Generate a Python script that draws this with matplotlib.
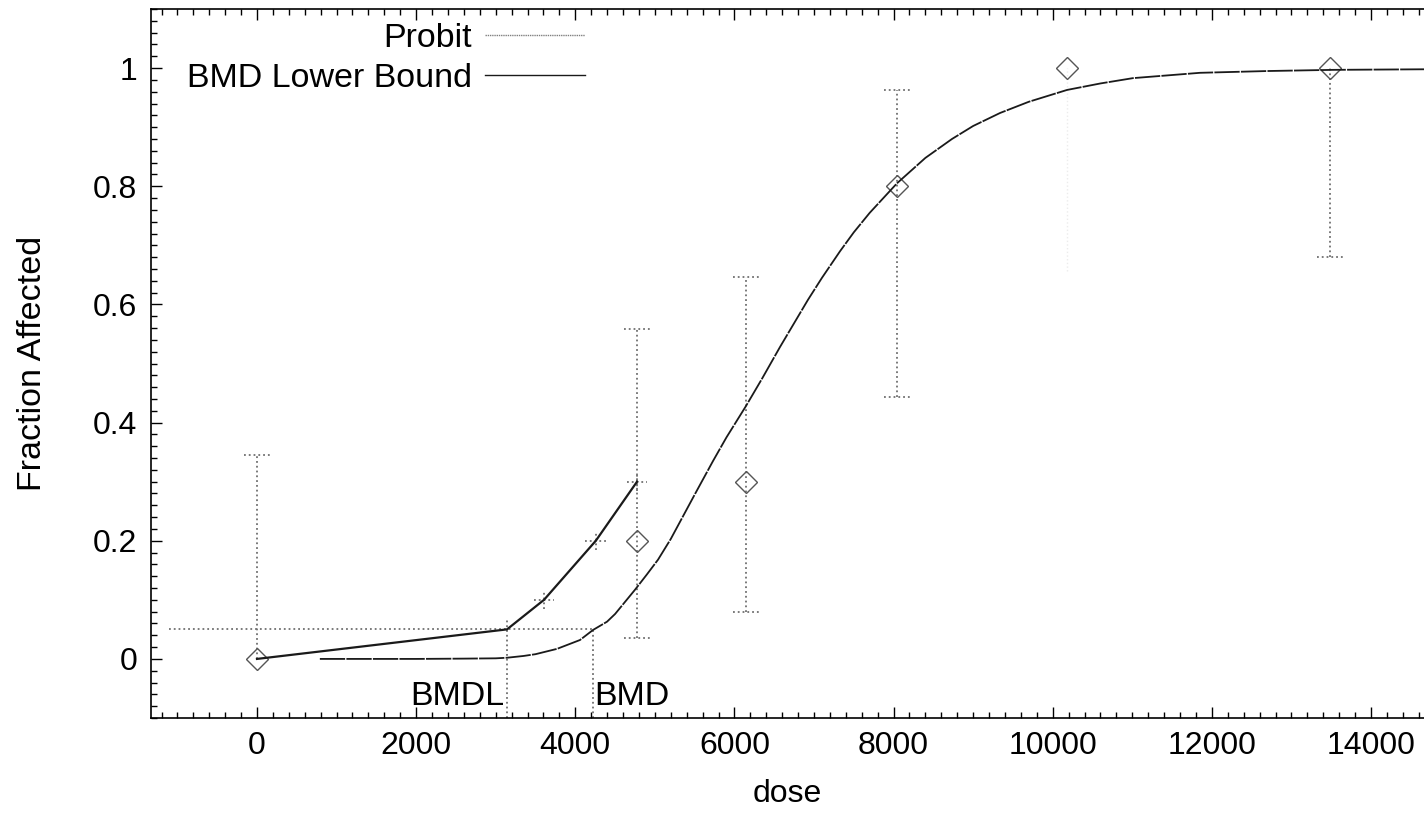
import matplotlib
matplotlib.use("Agg")
import matplotlib.pyplot as plt
from matplotlib.lines import Line2D
from matplotlib.ticker import MultipleLocator

plt.rcParams['font.family'] = ['Liberation Sans', 'DejaVu Sans']

# ---- data ----
obs_dose = [0, 4776, 6145, 8043, 10180, 13490]
obs_frac = [0.0, 0.2, 0.3, 0.8, 1.0, 1.0]
err_low = [0.0, 0.036, 0.08, 0.443, 0.657, 0.68]
err_high = [0.345, 0.558, 0.646, 0.963, 1.0, 1.0]

probit_dose = [790, 2000, 2600, 3000, 3142, 3350, 3500, 3770, 4059, 4223, 4399, 4500,
               4750, 4900, 5040, 5200, 5316, 5500, 5731, 5900, 6145, 6350, 6573, 6925,
               7100, 7327, 7500, 7700, 8043, 8400, 8734, 9000, 9338, 9700, 10180,
               10600, 11009, 11851, 12693, 13523, 14700]
probit_frac = [0.0, 0.0, 0.0005, 0.001, 0.002, 0.005, 0.008, 0.017, 0.032, 0.049, 0.063, 0.076,
               0.117, 0.143, 0.168, 0.203, 0.232, 0.278, 0.335, 0.375, 0.428, 0.475, 0.528, 0.608,
               0.645, 0.690, 0.722, 0.755, 0.805, 0.848, 0.880, 0.902, 0.924, 0.943, 0.963,
               0.974, 0.983, 0.992, 0.995, 0.997, 0.998]

bmdl_dose = [0, 3142, 3607, 4258, 4776]
bmdl_frac = [0.0, 0.05, 0.1, 0.2, 0.3]

bmr = 0.05
bmdl = 3142
bmd = 4223

# ---- figure ----
fig = plt.figure(figsize=(14.24, 8.32), dpi=100)
ax = fig.add_axes([151 / 1424, 114 / 832, 1 - 151 / 1424, (718 - 9) / 832])
ax.set_xlim(-1332, 14666)
ax.set_ylim(-0.1, 1.1)

FS_TICK = 23
FS_TXT = 24.5
ecol = '#707070'

# error bars (dotted) with dotted caps
ax.vlines(obs_dose[:4], err_low[:4], err_high[:4], colors=ecol, linestyles=':', lw=1.3)
ax.vlines(obs_dose[4:5], err_low[4:5], err_high[4:5], colors='#ececec', linestyles=':', lw=1.0)
ax.vlines(obs_dose[5:], err_low[5:], err_high[5:], colors=ecol, linestyles=':', lw=1.3)
cap = 165
for d, lo, hi in zip(obs_dose[:4] + obs_dose[5:], err_low[:4] + err_low[5:], err_high[:4] + err_high[5:]):
    if lo > 0:
        ax.hlines(lo, d - cap, d + cap, colors=ecol, linestyles=':', lw=1.3)
    if hi < 1.0:
        ax.hlines(hi, d - cap, d + cap, colors=ecol, linestyles=':', lw=1.3)

# observed data
ax.plot(obs_dose, obs_frac, linestyle='none', marker='D', ms=11, mfc='none',
        mec='#555555', mew=1.0, zorder=4)

# BMR / BMDL / BMD reference lines
ax.hlines(bmr, -1100, bmd, colors=ecol, linestyles=':', lw=1.3)
ax.vlines(bmdl, -0.1, 0.066, colors=ecol, linestyles=':', lw=1.3)
ax.vlines(bmd, -0.1, bmr, colors=ecol, linestyles=':', lw=1.3)

# crosses on the lower-bound line
for d, f in zip(bmdl_dose[2:], bmdl_frac[2:]):
    ax.hlines(f, d - 130, d + 130, colors=ecol, linestyles=':', lw=1.3)
    ax.vlines(d, f - 0.015, f + 0.015, colors=ecol, linestyles=':', lw=1.3)

# curves
ax.plot(probit_dose, probit_frac, color='#1a1a1a', lw=1.3, ls=(0, (14, 0.7)), zorder=5)
ax.plot(bmdl_dose, bmdl_frac, color='#1a1a1a', lw=1.6, zorder=5)

ax.text(bmdl - 30, -0.064, 'BMDL', ha='right', va='center', fontsize=FS_TXT)
ax.text(bmd + 20, -0.064, 'BMD', ha='left', va='center', fontsize=FS_TXT)

# axes styling
ax.xaxis.set_major_locator(MultipleLocator(2000))
ax.xaxis.set_minor_locator(MultipleLocator(200))
ax.yaxis.set_minor_locator(MultipleLocator(0.02))
ax.set_yticks([0, 0.2, 0.4, 0.6, 0.8, 1.0])
ax.set_yticklabels(['0', '0.2', '0.4', '0.6', '0.8', '1'])
ax.tick_params(which='both', direction='in', top=True, right=False, width=1.0, colors='black')
ax.tick_params(which='major', length=8, labelsize=FS_TICK)
ax.tick_params(which='minor', length=4)
ax.tick_params(axis='x', which='major', pad=9)
ax.tick_params(axis='y', which='major', pad=10)
ax.spines['right'].set_visible(False)
for s in ('left', 'bottom', 'top'):
    ax.spines[s].set_linewidth(1.2)

ax.set_xlabel('dose', fontsize=FS_TICK, labelpad=13)
ax.set_ylabel('Fraction Affected', fontsize=FS_TXT, labelpad=32)

handles = [Line2D([], [], color='#808080', lw=1.0, ls=(0, (1, 0.6))),
           Line2D([], [], color='#1a1a1a', lw=1.0)]
ax.legend(handles, ['Probit', 'BMD Lower Bound'], loc='upper right',
          bbox_to_anchor=(602 / 1424, 1 - 6 / 832), bbox_transform=fig.transFigure,
          frameon=False, markerfirst=False, fontsize=FS_TXT, handlelength=2.95,
          handletextpad=0.36, labelspacing=0.25, borderpad=0)

fig.savefig('out.png', dpi=100)
